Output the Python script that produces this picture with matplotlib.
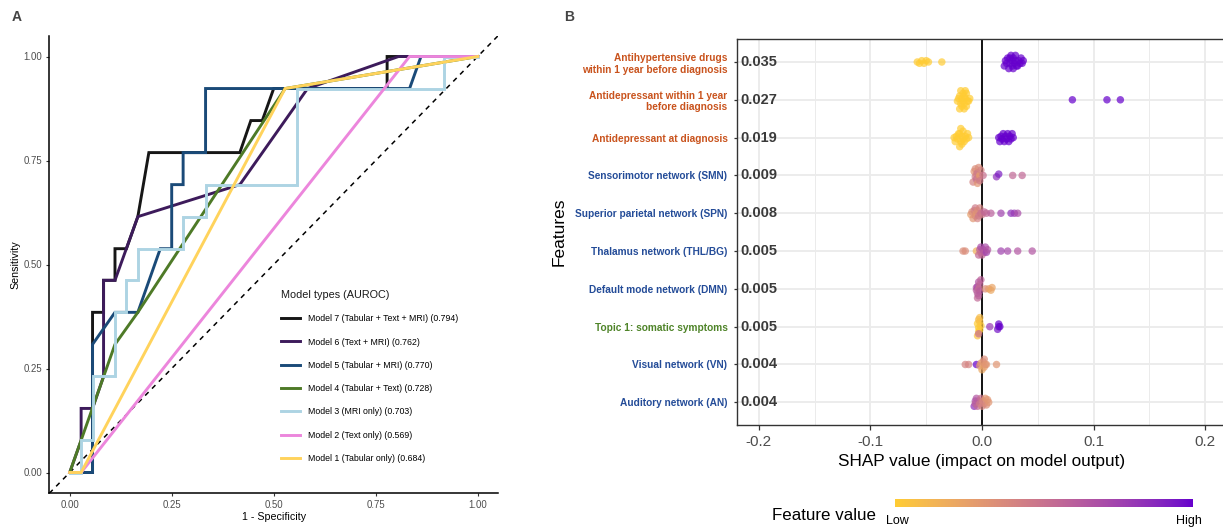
import numpy as np
import matplotlib
matplotlib.use("Agg")
import matplotlib.pyplot as plt
from matplotlib.colors import ListedColormap, to_rgb
from matplotlib.lines import Line2D

plt.rcParams['font.family'] = ['Liberation Sans', 'DejaVu Sans']

# ---------------- Panel A data (ROC curves) ----------------
model_names = ["Model 7 (Tabular + Text + MRI) (0.794)",
               "Model 6 (Text + MRI) (0.762)",
               "Model 5 (Tabular + MRI) (0.770)",
               "Model 4 (Tabular + Text) (0.728)",
               "Model 3 (MRI only) (0.703)",
               "Model 2 (Text only) (0.569)",
               "Model 1 (Tabular only) (0.684)"]
model_colors = ["#161616", "#3D1B5B", "#1A4A78", "#4E7A27", "#ADD4E3", "#EC86DC", "#FFD35C"]

fpr7 = [0, 0.028, 0.056, 0.056, 0.083, 0.083, 0.111, 0.111, 0.139, 0.167, 0.194, 0.417, 0.444, 0.472, 0.500, 0.778, 0.778, 1.0]
tpr7 = [0, 0, 0, 0.385, 0.385, 0.462, 0.462, 0.538, 0.538, 0.615, 0.769, 0.769, 0.846, 0.846, 0.923, 0.923, 1.0, 1.0]
fpr6 = [0, 0.028, 0.028, 0.056, 0.083, 0.083, 0.111, 0.167, 0.417, 0.583, 0.806, 1.0]
tpr6 = [0, 0.077, 0.154, 0.154, 0.231, 0.462, 0.462, 0.615, 0.692, 0.923, 1.0, 1.0]
fpr5 = [0, 0.028, 0.056, 0.056, 0.111, 0.167, 0.222, 0.250, 0.250, 0.278, 0.278, 0.333, 0.333, 0.833, 0.861, 1.0]
tpr5 = [0, 0, 0, 0.308, 0.385, 0.385, 0.538, 0.538, 0.692, 0.692, 0.769, 0.769, 0.923, 0.923, 1.0, 1.0]
fpr4 = [0, 0.111, 0.167, 0.528, 1.0]
tpr4 = [0, 0.308, 0.385, 0.923, 1.0]
fpr3 = [0, 0.028, 0.028, 0.056, 0.056, 0.111, 0.111, 0.139, 0.139, 0.167, 0.167, 0.278, 0.278, 0.333, 0.333, 0.556, 0.556, 0.917, 0.917, 1.0]
tpr3 = [0, 0, 0.077, 0.077, 0.231, 0.231, 0.385, 0.385, 0.462, 0.462, 0.538, 0.538, 0.615, 0.615, 0.692, 0.692, 0.923, 0.923, 1.0, 1.0]
fpr2 = [0, 0.028, 0.833, 1.0]
tpr2 = [0, 0, 1.0, 1.0]
fpr1 = [0, 0.028, 0.528, 1.0]
tpr1 = [0, 0, 0.923, 1.0]
roc_fpr = [fpr7, fpr6, fpr5, fpr4, fpr3, fpr2, fpr1]
roc_tpr = [tpr7, tpr6, tpr5, tpr4, tpr3, tpr2, tpr1]
roc_ticks = [0.00, 0.25, 0.50, 0.75, 1.00]

# ---------------- Panel B data (SHAP summary) ----------------
features = ["Antihypertensive drugs\nwithin 1 year before diagnosis",
            "Antidepressant within 1 year\nbefore diagnosis",
            "Antidepressant at diagnosis",
            "Sensorimotor network (SMN)",
            "Superior parietal network (SPN)",
            "Thalamus network (THL/BG)",
            "Default mode network (DMN)",
            "Topic 1: somatic symptoms",
            "Visual network (VN)",
            "Auditory network (AN)"]
feature_groups = ["tab", "tab", "tab", "mri", "mri", "mri", "mri", "text", "mri", "mri"]
group_colors = {"tab": "#C9531D", "mri": "#244C98", "text": "#4F8429"}
mean_abs = ["0.035", "0.027", "0.019", "0.009", "0.008", "0.005", "0.005", "0.005", "0.004", "0.004"]

r1_shap = [-0.058, -0.056, -0.054, -0.052, -0.050, -0.048, -0.036,
           0.020, 0.021, 0.022, 0.023, 0.024, 0.025, 0.025, 0.026, 0.027, 0.027, 0.028, 0.028,
           0.029, 0.030, 0.030, 0.031, 0.032, 0.033, 0.034, 0.035, 0.036, 0.037]
r1_fv = [0, 0, 0, 0, 0, 0, 0] + [1] * 22
r2_shap = [-0.022, -0.021, -0.020, -0.020, -0.019, -0.019, -0.018, -0.018, -0.017, -0.017,
           -0.016, -0.016, -0.016, -0.015, -0.015, -0.014, -0.014, -0.013, -0.012, -0.011,
           0.081, 0.112, 0.124]
r2_fv = [0] * 20 + [1, 1, 1]
r3_shap = [-0.025, -0.024, -0.023, -0.022, -0.021, -0.020, -0.020, -0.019, -0.019, -0.018,
           -0.018, -0.017, -0.017, -0.016, -0.015, -0.014, -0.013, -0.012,
           0.015, 0.016, 0.017, 0.018, 0.019, 0.020, 0.021, 0.022, 0.023, 0.024, 0.025, 0.026, 0.027, 0.028]
r3_fv = [0] * 18 + [1] * 14
r4_shap = [-0.008, -0.007, -0.006, -0.006, -0.005, -0.005, -0.004, -0.004, -0.003, -0.003,
           -0.002, -0.002, -0.001, 0.001, 0.013, 0.015, 0.0275, 0.036]
r4_fv = [0.40, 0.30, 0.45, 0.35, 0.40, 0.50, 0.30, 0.45, 0.40, 0.35,
         0.25, 0.45, 0.40, 0.50, 0.85, 0.92, 0.55, 0.55]
r5_shap = [-0.010, -0.009, -0.008, -0.007, -0.006, -0.006, -0.005, -0.004, -0.004, -0.003,
           -0.002, -0.001, 0.000, 0.002, 0.004, 0.008, 0.017, 0.026, 0.029, 0.032]
r5_fv = [0.25, 0.35, 0.30, 0.40, 0.35, 0.45, 0.30, 0.40, 0.35, 0.45,
         0.40, 0.50, 0.45, 0.55, 0.55, 0.60, 0.75, 0.85, 0.80, 0.70]
r6_shap = [-0.017, -0.015, -0.005, -0.003, -0.002, -0.001, -0.001, 0.000, 0.001, 0.002,
           0.003, 0.004, 0.005, 0.017, 0.023, 0.032, 0.045]
r6_fv = [0.35, 0.35, 0.15, 0.55, 0.60, 0.50, 0.70, 0.55, 0.65, 0.60,
         0.70, 0.75, 0.65, 0.75, 0.72, 0.65, 0.65]
r7_shap = [-0.005, -0.005, -0.004, -0.004, -0.004, -0.003, -0.003, -0.003, -0.002, -0.002,
           -0.001, 0.003, 0.006, 0.008, 0.009]
r7_fv = [0.60, 0.65, 0.55, 0.70, 0.60, 0.65, 0.50, 0.60, 0.55, 0.62,
         0.58, 0.35, 0.25, 0.20, 0.22]
r8_shap = [-0.004, -0.004, -0.003, -0.003, -0.003, -0.002, -0.002, -0.002, -0.003, -0.001,
           0.007, 0.014, 0.015, 0.015, 0.016]
r8_fv = [0.05, 0.0, 0.02, 0.10, 0.0, 0.05, 0.0, 0.08, 0.50, 0.03,
         0.80, 0.95, 1.0, 0.97, 1.0]
r9_shap = [-0.015, -0.012, -0.005, -0.002, -0.001, 0.000, 0.001, 0.002, 0.002, 0.003, 0.004, 0.013]
r9_fv = [0.40, 0.40, 1.00, 0.30, 0.25, 0.20, 0.30, 0.25, 0.35, 0.30, 0.30, 0.30]
r10_shap = [-0.007, -0.006, -0.006, -0.005, -0.004, -0.003, -0.002, -0.001, 0.000, 0.001,
            0.002, 0.003, 0.004, 0.005, 0.006]
r10_fv = [0.85, 0.70, 0.60, 0.65, 0.55, 0.60, 0.45, 0.50, 0.40, 0.35,
          0.40, 0.30, 0.35, 0.30, 0.30]

shap_rows = [r1_shap, r2_shap, r3_shap, r4_shap, r5_shap, r6_shap, r7_shap, r8_shap, r9_shap, r10_shap]
fv_rows = [r1_fv, r2_fv, r3_fv, r4_fv, r5_fv, r6_fv, r7_fv, r8_fv, r9_fv, r10_fv]
shap_ticks = [-0.2, -0.1, 0.0, 0.1, 0.2]
shap_tick_labels = ["-0.2", "-0.1", "0.0", "0.1", "0.2"]
low_color, high_color = "#FFCC33", "#6600CC"


# ---------- helpers ----------
def srgb_to_lab(c):
    c = np.asarray(c, float)
    lin = np.where(c <= 0.04045, c / 12.92, ((c + 0.055) / 1.055) ** 2.4)
    M = np.array([[0.4124, 0.3576, 0.1805], [0.2126, 0.7152, 0.0722], [0.0193, 0.1192, 0.9505]])
    xyz = M @ lin / np.array([0.95047, 1.0, 1.08883])
    f = np.where(xyz > 0.008856, np.cbrt(xyz), 7.787 * xyz + 16 / 116)
    return np.array([116 * f[1] - 16, 500 * (f[0] - f[1]), 200 * (f[1] - f[2])])


def lab_to_srgb(lab):
    L, a, b = lab
    fy = (L + 16) / 116
    fx = fy + a / 500
    fz = fy - b / 200
    f = np.array([fx, fy, fz])
    xyz = np.where(f ** 3 > 0.008856, f ** 3, (f - 16 / 116) / 7.787) * np.array([0.95047, 1.0, 1.08883])
    Minv = np.array([[3.2406, -1.5372, -0.4986], [-0.9689, 1.8758, 0.0415], [0.0557, -0.2040, 1.0570]])
    lin = Minv @ xyz
    c = np.where(lin <= 0.0031308, 12.92 * lin, 1.055 * np.clip(lin, 0, None) ** (1 / 2.4) - 0.055)
    return np.clip(c, 0, 1)


lab_lo, lab_hi = srgb_to_lab(to_rgb(low_color)), srgb_to_lab(to_rgb(high_color))
cmap = ListedColormap([lab_to_srgb(lab_lo + t * (lab_hi - lab_lo)) for t in np.linspace(0, 1, 256)])


def sina_offsets(x, binw=0.004, step=0.035, cap=0.24):
    x = np.asarray(x, float)
    off = np.zeros(len(x))
    bins = np.floor(x / binw)
    for b in np.unique(bins):
        idx = np.where(bins == b)[0]
        idx = idx[np.argsort(x[idx], kind="stable")]
        c = len(idx)
        if c < 2:
            continue
        h = min(cap, step * (c - 1))
        pos = np.linspace(-h, h, c)
        rank = np.argsort(np.argsort((np.arange(c) * 0.618034) % 1.0))
        off[idx] = pos[rank]
    return off


# ---------------- Figure ----------------
fig = plt.figure(figsize=(12.23, 5.28), dpi=100)
W, H = 1223, 528

# ----- Panel A -----
axA = fig.add_axes([49.3 / W, (H - 493.3) / H, 448.8 / W, 457.6 / H])
axA.plot([-0.05, 1.05], [-0.05, 1.05], ls=(0, (3.2, 3.2)), color="black", lw=1.1, zorder=1)
for fx, ty, col in zip(roc_fpr, roc_tpr, model_colors):
    axA.plot(fx, ty, color=col, lw=2.1, solid_joinstyle="miter", zorder=2)
axA.set_xlim(-0.05, 1.05)
axA.set_ylim(-0.05, 1.05)
axA.set_xticks(roc_ticks)
axA.set_yticks(roc_ticks)
axA.set_xticklabels([f"{t:.2f}" for t in roc_ticks])
axA.set_yticklabels([f"{t:.2f}" for t in roc_ticks])
axA.tick_params(labelsize=6.9, labelcolor="#4D4D4D", color="#333333", length=2.5, width=0.8, pad=2.5)
for s in ["top", "right"]:
    axA.spines[s].set_visible(False)
for s in ["left", "bottom"]:
    axA.spines[s].set_linewidth(1.1)
    axA.spines[s].set_color("black")
axA.set_xlabel("1 - Specificity", fontsize=7.7, labelpad=1.5)
axA.set_ylabel("Sensitivity", fontsize=7.7, labelpad=2)

handles = [Line2D([0], [0], color=c, lw=2.1) for c in model_colors]
leg = axA.legend(handles, model_names, title="Model types (AUROC)", loc="upper left",
                 bbox_to_anchor=(281 / W, (H - 290) / H), bbox_transform=fig.transFigure,
                 frameon=False, fontsize=6.3, title_fontsize=7.8, handlelength=2.15,
                 handletextpad=0.95, labelspacing=1.63, borderpad=0, borderaxespad=0,
                 alignment="left")
leg.get_title().set_color("#1a1a1a")

fig.text(12 / W, (H - 17) / H, "A", fontsize=10, fontweight="bold", color="#444444", va="center", ha="left")
fig.text(564 / W, (H - 17) / H, "B", fontsize=10, fontweight="bold", color="#444444", va="center", ha="left")

# ----- Panel B -----
xl, xr = -0.22, 0.22
px_per = 1115.8
left_px = 982 - 0.22 * px_per
axB = fig.add_axes([left_px / W, (H - 425) / H, (xr - xl) * px_per / W, (425 - 39.3) / H])
n = len(features)
ypos = np.arange(n, 0, -1)
axB.set_xlim(xl, xr)
axB.set_ylim(0.4, n + 0.6)
axB.set_xticks(shap_ticks)
axB.set_xticklabels(shap_tick_labels)
axB.set_xticks([-0.15, -0.05, 0.05, 0.15], minor=True)
axB.set_yticks(ypos)
axB.set_yticklabels(features)
axB.grid(True, which="major", color="#EBEBEB", lw=1.3, zorder=0)
axB.grid(True, which="minor", axis="x", color="#EBEBEB", lw=0.7, zorder=0)
axB.set_axisbelow(True)
axB.tick_params(axis="x", which="major", labelsize=11, labelcolor="#4D4D4D", color="#333333",
                length=3.5, width=0.9, pad=4)
axB.tick_params(axis="x", which="minor", length=0)
axB.tick_params(axis="y", labelsize=7.3, color="#333333", length=2.5, width=0.9, pad=4)
for lab, g in zip(axB.get_yticklabels(), feature_groups):
    lab.set_color(group_colors[g])
    lab.set_fontweight("bold")
    lab.set_multialignment("right")
for s in axB.spines.values():
    s.set_color("#333333")
    s.set_linewidth(1.0)
axB.axvline(0, color="black", lw=1.3, zorder=2)

for yv, xs, fv, mv in zip(ypos, shap_rows, fv_rows, mean_abs):
    xs = np.asarray(xs, float)
    off = sina_offsets(xs)
    axB.scatter(xs, yv + off, c=fv, cmap=cmap, vmin=0, vmax=1, s=29, alpha=0.7,
                linewidths=0, zorder=3)
    axB.text(-0.2, yv, mv, ha="center", va="center", fontsize=10.5, fontweight="bold",
             color="#3A3A3A", zorder=4)

axB.set_xlabel("SHAP value (impact on model output)", fontsize=12.3, labelpad=3)
axB.set_ylabel("Features", fontsize=12.5, labelpad=6)

# colour bar legend
axC = fig.add_axes([895 / W, (H - 506.7) / H, 297.7 / W, 7.4 / H])
axC.imshow(np.linspace(0, 1, 256)[None, :], aspect="auto", cmap=cmap, extent=(0, 1, 0, 1))
axC.set_axis_off()
fig.text(772.5 / W, (H - 515) / H, "Feature value", fontsize=12.2, va="center", ha="left")
fig.text(897 / W, (H - 521) / H, "Low", fontsize=9, va="center", ha="center")
fig.text(1189 / W, (H - 521) / H, "High", fontsize=9, va="center", ha="center")

fig.savefig("out.png", dpi=100)
